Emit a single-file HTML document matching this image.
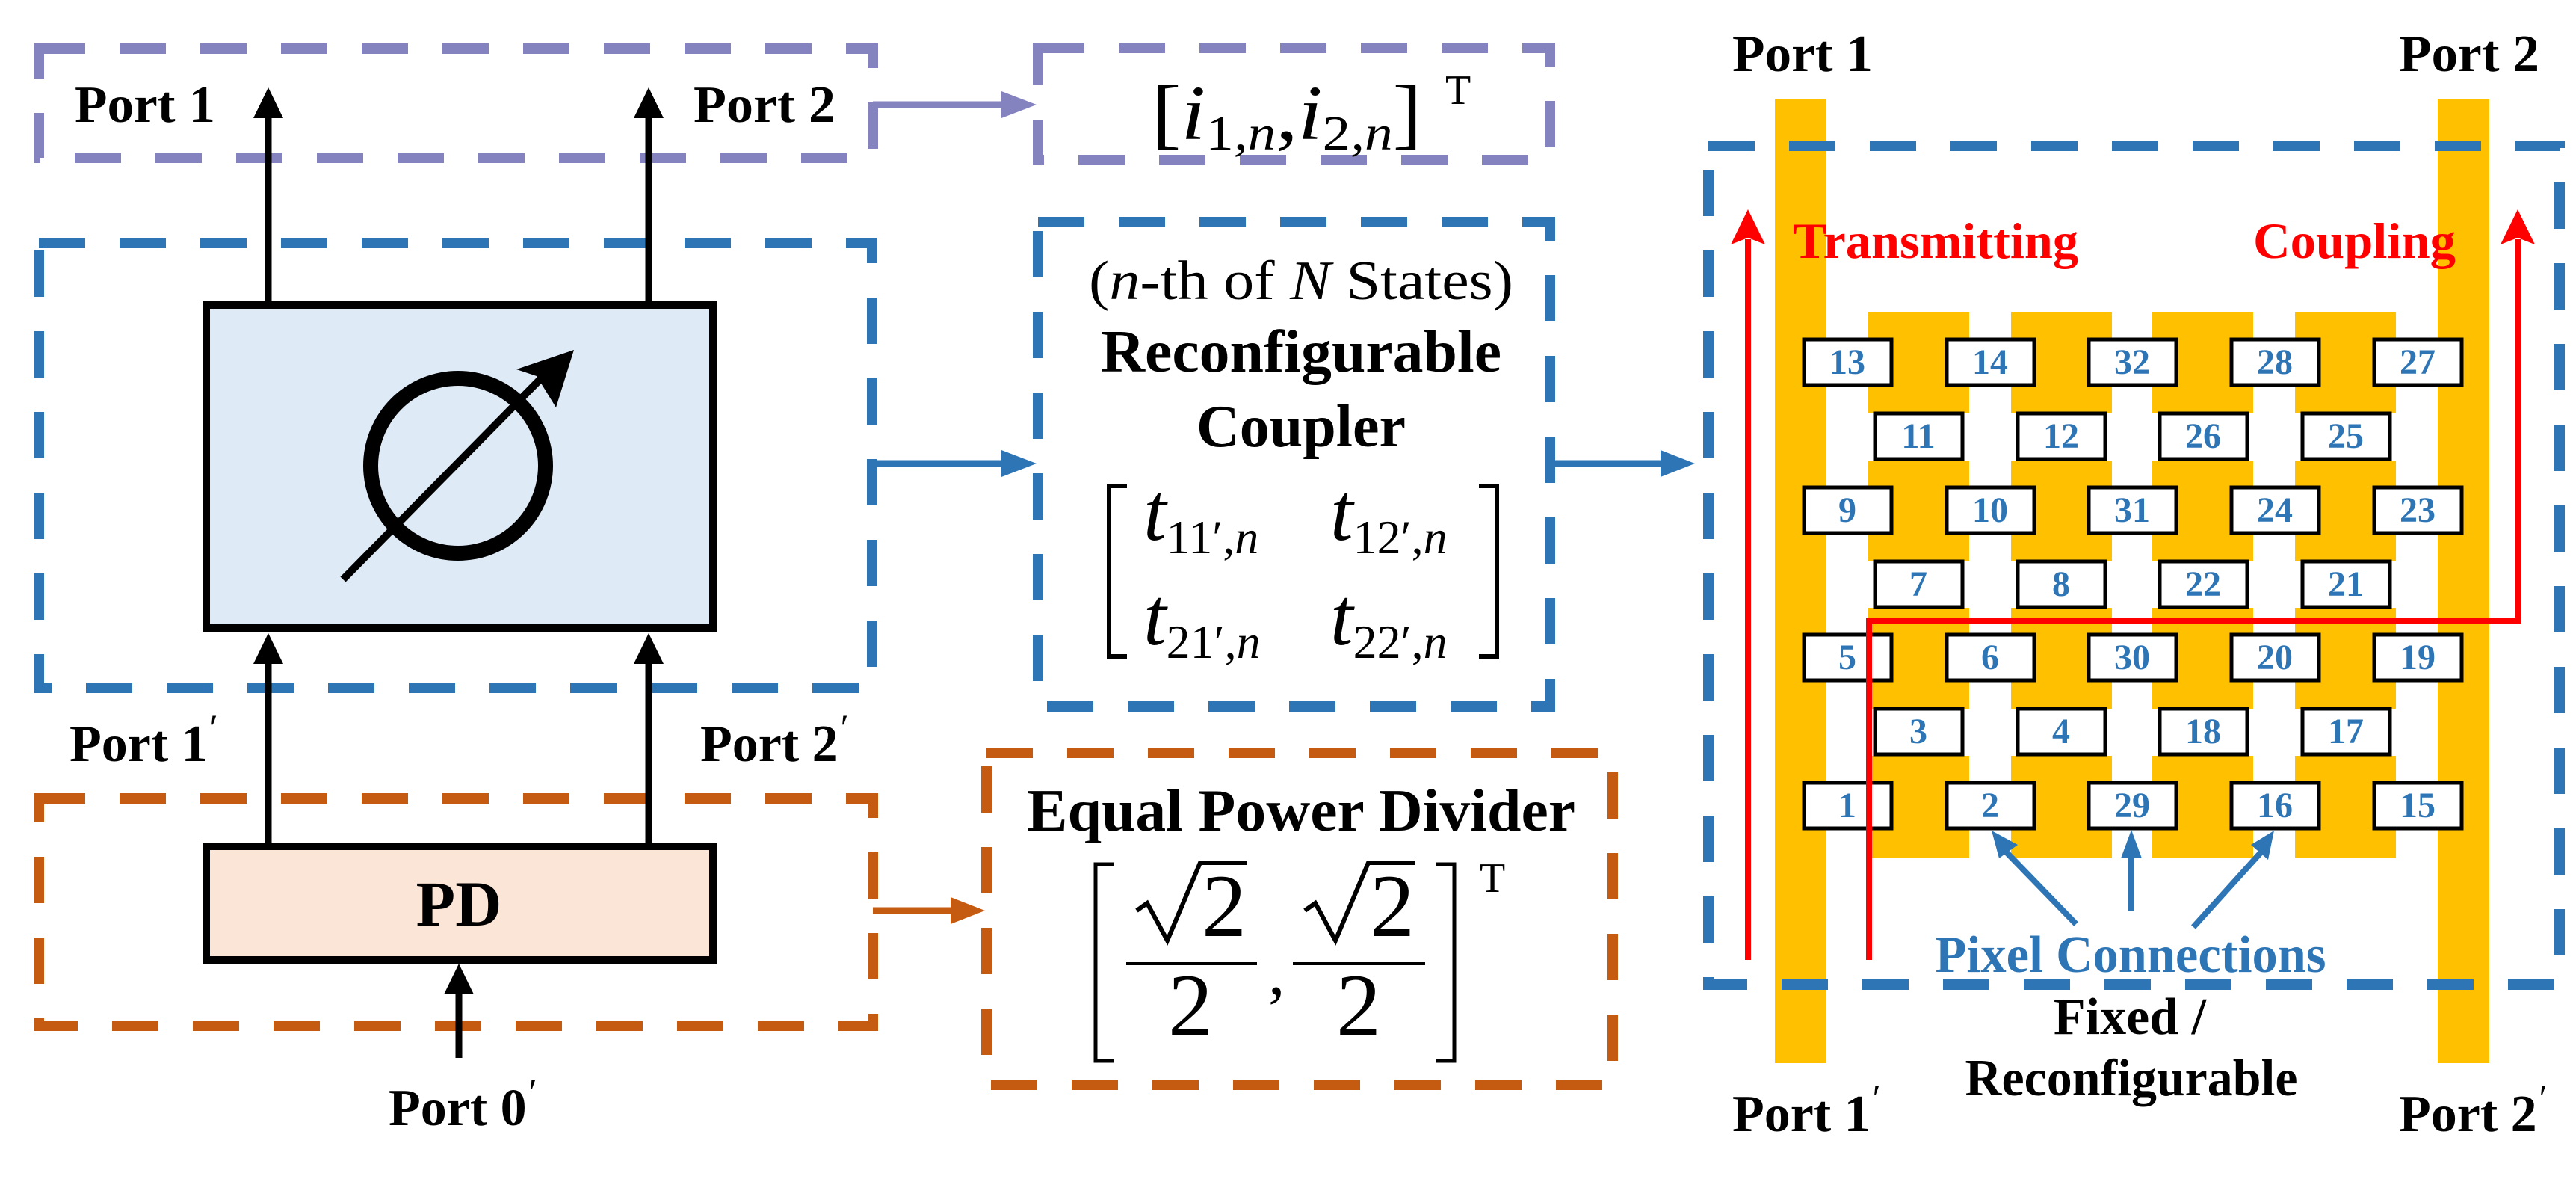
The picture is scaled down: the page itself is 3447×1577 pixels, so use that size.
<!DOCTYPE html>
<html><head><meta charset="utf-8"><style>
html,body{margin:0;padding:0;background:#fff;}
svg{display:block;}
svg text{font-family:"Liberation Serif","DejaVu Serif",serif;}
.b{font-weight:bold;}
.m{font-style:italic;}
</style></head><body>
<svg width="3447" height="1577" viewBox="0 0 3447 1577" xmlns="http://www.w3.org/2000/svg" font-family="Liberation Serif, DejaVu Serif, serif">
<g fill="none" stroke-width="14" stroke-dasharray="62 46">
<rect x="52" y="65" width="1116" height="146" stroke="#8582c0"/>
<rect x="1389" y="64" width="685" height="150" stroke="#8582c0"/>
<rect x="52" y="325" width="1115" height="595" stroke="#2e75b6"/>
<rect x="1389" y="297" width="685" height="648" stroke="#2e75b6"/>
<rect x="52" y="1068" width="1116" height="304" stroke="#c55a11"/>
<rect x="1320" y="1007" width="838" height="444" stroke="#c55a11"/>
</g>
<g stroke-width="9">
<line x1="1168" y1="140" x2="1350" y2="140" stroke="#8582c0"/>
<path d="M1340,122 L1387,140 L1340,158 Z" fill="#8582c0"/>
<line x1="1168" y1="620" x2="1350" y2="620" stroke="#2e75b6"/>
<path d="M1340,602 L1387,620 L1340,638 Z" fill="#2e75b6"/>
<line x1="2074" y1="620" x2="2230" y2="620" stroke="#2e75b6"/>
<path d="M2222,602 L2268,620 L2222,638 Z" fill="#2e75b6"/>
<line x1="1168" y1="1218" x2="1280" y2="1218" stroke="#c55a11"/>
<path d="M1272,1200 L1318,1218 L1272,1236 Z" fill="#c55a11"/>
</g>
<g stroke="#000" stroke-width="9">
<line x1="359" y1="150" x2="359" y2="403"/>
<line x1="868" y1="150" x2="868" y2="403"/>
<line x1="359" y1="1132" x2="359" y2="880"/>
<line x1="868" y1="1132" x2="868" y2="880"/>
<line x1="614" y1="1415" x2="614" y2="1320"/>
</g>
<g fill="#000">
<path d="M339,158 L359,117 L379,158 Z"/>
<path d="M848,158 L868,117 L888,158 Z"/>
<path d="M339,888 L359,847 L379,888 Z"/>
<path d="M848,888 L868,847 L888,888 Z"/>
<path d="M594,1330 L614,1289 L634,1330 Z"/>
</g>
<rect x="276" y="408" width="678" height="432" fill="#deeaf6" stroke="#000" stroke-width="10"/>
<ellipse cx="613" cy="623" rx="117" ry="117" fill="none" stroke="#000" stroke-width="20"/>
<line x1="459" y1="775" x2="730" y2="500" stroke="#000" stroke-width="10"/>
<path d="M768,468 L691,494 L718,503 L744,545 Z" fill="#000"/>
<rect x="276" y="1132" width="678" height="152" fill="#fbe5d6" stroke="#000" stroke-width="10"/>
<text x="614" y="1238" text-anchor="middle" class="b" font-size="86">PD</text>
<text x="100" y="163" class="b" font-size="70" textLength="188" lengthAdjust="spacingAndGlyphs">Port 1</text>
<text x="928" y="163" class="b" font-size="70" textLength="190" lengthAdjust="spacingAndGlyphs">Port 2</text>
<text x="93" y="1018" class="b" font-size="70">Port 1<tspan font-weight="normal" class="m" dy="-28" font-size="50">′</tspan></text>
<text x="937" y="1018" class="b" font-size="70">Port 2<tspan font-weight="normal" class="m" dy="-28" font-size="50">′</tspan></text>
<text x="520" y="1505" class="b" font-size="70">Port 0<tspan font-weight="normal" class="m" dy="-28" font-size="50">′</tspan></text>
<text x="1541" y="186" font-size="104" textLength="362" lengthAdjust="spacingAndGlyphs">[<tspan class="m">i</tspan><tspan font-size="66" dy="14">1</tspan><tspan font-size="66" class="m">,n</tspan><tspan dy="-14">,</tspan><tspan class="m">i</tspan><tspan font-size="66" dy="14">2</tspan><tspan font-size="66" class="m">,n</tspan><tspan dy="-14">]</tspan></text>
<text x="1934" y="139" font-size="56">T</text>
<text x="1741" y="400" text-anchor="middle" font-size="74" textLength="568" lengthAdjust="spacingAndGlyphs">(<tspan class="m">n</tspan>-th of <tspan class="m">N</tspan> States)</text>
<text x="1741" y="497" text-anchor="middle" class="b" font-size="80" textLength="536" lengthAdjust="spacingAndGlyphs">Reconfigurable</text>
<text x="1741" y="597" text-anchor="middle" class="b" font-size="80">Coupler</text>
<path d="M1508,650 L1484,650 L1484,878 L1508,878" fill="none" stroke="#000" stroke-width="6"/>
<path d="M1979,650 L2003,650 L2003,878 L1979,878" fill="none" stroke="#000" stroke-width="6"/>
<g font-size="110">
<text x="1530" y="722"><tspan class="m">t</tspan><tspan font-size="64" dy="18">11′,</tspan><tspan font-size="64" class="m">n</tspan></text>
<text x="1780" y="722"><tspan class="m">t</tspan><tspan font-size="64" dy="18">12′,</tspan><tspan font-size="64" class="m">n</tspan></text>
<text x="1530" y="862"><tspan class="m">t</tspan><tspan font-size="64" dy="18">21′,</tspan><tspan font-size="64" class="m">n</tspan></text>
<text x="1780" y="862"><tspan class="m">t</tspan><tspan font-size="64" dy="18">22′,</tspan><tspan font-size="64" class="m">n</tspan></text>
</g>
<text x="1741" y="1111" text-anchor="middle" class="b" font-size="80" textLength="734" lengthAdjust="spacingAndGlyphs">Equal Power Divider</text>
<path d="M1490,1156 L1466,1156 L1466,1419 L1490,1419" fill="none" stroke="#000" stroke-width="5"/>
<path d="M1922,1156 L1946,1156 L1946,1419 L1922,1419" fill="none" stroke="#000" stroke-width="5"/>
<text x="1980" y="1193" font-size="56">T</text>
<g fill="none" stroke="#000" stroke-width="6" stroke-linejoin="miter">
<path d="M1521,1218 L1535,1208 L1562,1258 L1606,1154 L1668,1154"/>
<path d="M1746,1218 L1760,1208 L1787,1258 L1831,1154 L1893,1154"/>
</g>
<g font-size="120">
<text x="1638" y="1252" text-anchor="middle">2</text>
<text x="1593" y="1385" text-anchor="middle">2</text>
<text x="1697" y="1330" font-size="90">,</text>
<text x="1863" y="1252" text-anchor="middle">2</text>
<text x="1818" y="1385" text-anchor="middle">2</text>
</g>
<line x1="1507" y1="1289" x2="1682" y2="1289" stroke="#000" stroke-width="4"/>
<line x1="1730" y1="1289" x2="1907" y2="1289" stroke="#000" stroke-width="4"/>
<rect x="2375" y="132" width="69" height="1290" fill="#ffc000"/>
<rect x="3262" y="132" width="69" height="1290" fill="#ffc000"/>
<g fill="#ffc000">
<rect x="2500" y="417" width="135" height="135"/><rect x="2500" y="616" width="135" height="135"/><rect x="2500" y="813" width="135" height="135"/><rect x="2500" y="1011" width="135" height="137"/>
<rect x="2691" y="417" width="135" height="135"/><rect x="2691" y="616" width="135" height="135"/><rect x="2691" y="813" width="135" height="135"/><rect x="2691" y="1011" width="135" height="137"/>
<rect x="2880" y="417" width="135" height="135"/><rect x="2880" y="616" width="135" height="135"/><rect x="2880" y="813" width="135" height="135"/><rect x="2880" y="1011" width="135" height="137"/>
<rect x="3071" y="417" width="135" height="135"/><rect x="3071" y="616" width="135" height="135"/><rect x="3071" y="813" width="135" height="135"/><rect x="3071" y="1011" width="135" height="137"/>
</g>
<rect x="2286" y="195" width="1139" height="1122" fill="none" stroke="#2e75b6" stroke-width="14" stroke-dasharray="62 46"/>
<g stroke="#000" stroke-width="5" fill="#fff">
<rect x="2414" y="454" width="117" height="61"/><rect x="2605" y="454" width="117" height="61"/><rect x="2795" y="454" width="117" height="61"/><rect x="2986" y="454" width="117" height="61"/><rect x="3177" y="454" width="117" height="61"/>
<rect x="2509" y="553" width="117" height="61"/><rect x="2700" y="553" width="117" height="61"/><rect x="2890" y="553" width="117" height="61"/><rect x="3081" y="553" width="117" height="61"/>
<rect x="2414" y="652" width="117" height="61"/><rect x="2605" y="652" width="117" height="61"/><rect x="2795" y="652" width="117" height="61"/><rect x="2986" y="652" width="117" height="61"/><rect x="3177" y="652" width="117" height="61"/>
<rect x="2509" y="751" width="117" height="61"/><rect x="2700" y="751" width="117" height="61"/><rect x="2890" y="751" width="117" height="61"/><rect x="3081" y="751" width="117" height="61"/>
<rect x="2414" y="849" width="117" height="61"/><rect x="2605" y="849" width="117" height="61"/><rect x="2795" y="849" width="117" height="61"/><rect x="2986" y="849" width="117" height="61"/><rect x="3177" y="849" width="117" height="61"/>
<rect x="2509" y="948" width="117" height="61"/><rect x="2700" y="948" width="117" height="61"/><rect x="2890" y="948" width="117" height="61"/><rect x="3081" y="948" width="117" height="61"/>
<rect x="2414" y="1047" width="117" height="61"/><rect x="2605" y="1047" width="117" height="61"/><rect x="2795" y="1047" width="117" height="61"/><rect x="2986" y="1047" width="117" height="61"/><rect x="3177" y="1047" width="117" height="61"/>
</g>
<g fill="#2e75b6" font-size="48" text-anchor="middle" font-weight="bold">
<text x="2472" y="500">13</text><text x="2663" y="500">14</text><text x="2853" y="500">32</text><text x="3044" y="500">28</text><text x="3235" y="500">27</text>
<text x="2567" y="599">11</text><text x="2758" y="599">12</text><text x="2948" y="599">26</text><text x="3139" y="599">25</text>
<text x="2472" y="698">9</text><text x="2663" y="698">10</text><text x="2853" y="698">31</text><text x="3044" y="698">24</text><text x="3235" y="698">23</text>
<text x="2567" y="797">7</text><text x="2758" y="797">8</text><text x="2948" y="797">22</text><text x="3139" y="797">21</text>
<text x="2472" y="895">5</text><text x="2663" y="895">6</text><text x="2853" y="895">30</text><text x="3044" y="895">20</text><text x="3235" y="895">19</text>
<text x="2567" y="994">3</text><text x="2758" y="994">4</text><text x="2948" y="994">18</text><text x="3139" y="994">17</text>
<text x="2472" y="1093">1</text><text x="2663" y="1093">2</text><text x="2853" y="1093">29</text><text x="3044" y="1093">16</text><text x="3235" y="1093">15</text>
</g>
<g stroke="#ff0000" stroke-width="8" fill="none">
<line x1="2339" y1="1284" x2="2339" y2="320"/>
<path d="M2501,1284 L2501,830 L3369,830 L3369,320"/>
</g>
<path d="M2316,327 L2339,280 L2362,327 L2339,318 Z" fill="#ff0000"/>
<path d="M3346,327 L3369,280 L3392,327 L3369,318 Z" fill="#ff0000"/>
<text x="2399" y="345" fill="#ff0000" class="b" font-size="68" textLength="382" lengthAdjust="spacingAndGlyphs">Transmitting</text>
<text x="3015" y="345" fill="#ff0000" class="b" font-size="68" textLength="271" lengthAdjust="spacingAndGlyphs">Coupling</text>
<g stroke="#2e75b6" stroke-width="8">
<line x1="2778" y1="1236" x2="2680" y2="1135"/>
<line x1="2852" y1="1218" x2="2852" y2="1140"/>
<line x1="2935" y1="1240" x2="3030" y2="1135"/>
</g>
<g fill="#2e75b6">
<path d="M2665,1111 L2700,1130 L2675,1148 Z"/>
<path d="M2852,1110 L2866,1148 L2838,1148 Z"/>
<path d="M3043,1111 L3035,1150 L3012,1130 Z"/>
</g>
<text x="2851" y="1300" text-anchor="middle" fill="#2e75b6" class="b" font-size="70" textLength="523" lengthAdjust="spacingAndGlyphs">Pixel Connections</text>
<text x="2850" y="1383" text-anchor="middle" class="b" font-size="70">Fixed /</text>
<text x="2852" y="1465" text-anchor="middle" class="b" font-size="70" textLength="445" lengthAdjust="spacingAndGlyphs">Reconfigurable</text>
<text x="2318" y="95" class="b" font-size="70" textLength="188" lengthAdjust="spacingAndGlyphs">Port 1</text>
<text x="3210" y="95" class="b" font-size="70" textLength="188" lengthAdjust="spacingAndGlyphs">Port 2</text>
<text x="2318" y="1513" class="b" font-size="70">Port 1<tspan font-weight="normal" class="m" dy="-28" font-size="50">′</tspan></text>
<text x="3210" y="1513" class="b" font-size="70">Port 2<tspan font-weight="normal" class="m" dy="-28" font-size="50">′</tspan></text>
</svg>
</body></html>
